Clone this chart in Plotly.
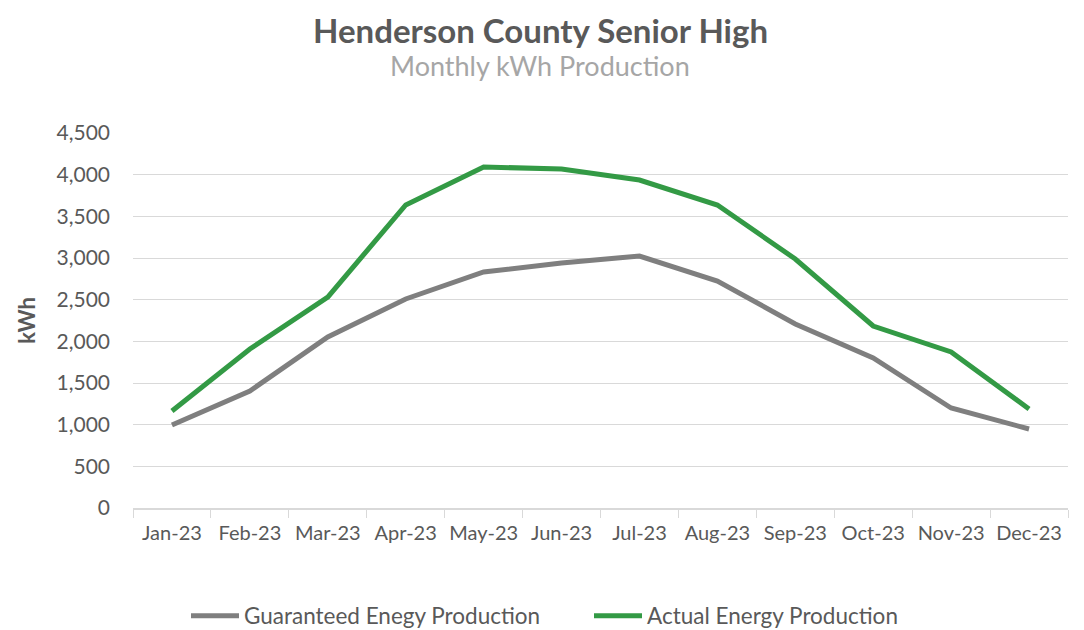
import plotly.graph_objects as go

months = ["Jan-23", "Feb-23", "Mar-23", "Apr-23", "May-23", "Jun-23",
          "Jul-23", "Aug-23", "Sep-23", "Oct-23", "Nov-23", "Dec-23"]
guaranteed = [996, 1404, 2052, 2508, 2832, 2940, 3024, 2724, 2208, 1800, 1200, 948]
actual = [1164, 1908, 2532, 3636, 4092, 4068, 3936, 3636, 2988, 2184, 1872, 1188]
y_ticks = [0, 500, 1000, 1500, 2000, 2500, 3000, 3500, 4000, 4500]

FONT = "Lato"
OFF = 8  # page body margin
W, H = 1084 - OFF, 630 - OFF
# target plot area in page pixels: x 133..1068, y 133..508
ML, MT = 133 - OFF, 133 - OFF
plot_w, plot_h = 1068 - 133, 508 - 133
MR = W - ML - plot_w
MB = H - MT - plot_h

fig = go.Figure()
fig.add_trace(go.Scatter(x=months, y=guaranteed, mode="lines",
                         name="Guaranteed Enegy Production",
                         line=dict(color="#7f7f7f", width=5)))
fig.add_trace(go.Scatter(x=months, y=actual, mode="lines",
                         name="Actual Energy Production",
                         line=dict(color="#339a45", width=5)))

cx = (540 - 133) / plot_w
fig.update_layout(
    width=W, height=H,
    margin=dict(l=ML, r=MR, t=MT, b=MB, autoexpand=False),
    paper_bgcolor="white", plot_bgcolor="white",
    font=dict(family=FONT, color="#595959", size=20),
    showlegend=True,
    legend=dict(orientation="h", x=(190 - 133 - 4) / plot_w, xanchor="left",
                y=-(616 - 508) / plot_h, yanchor="middle",
                font=dict(size=22.5, color="#595959"), itemwidth=48,
                entrywidthmode="pixels", entrywidth=340,
                tracegroupgap=0, itemsizing="constant"),
    annotations=[
        dict(text="<b>Henderson County Senior High</b>", x=cx, xref="paper",
             y=1 + (133 - 30) / plot_h, yref="paper", yanchor="middle",
             showarrow=False, font=dict(size=33, color="#595959")),
        dict(text="Monthly kWh Production", x=cx, xref="paper",
             y=1 + (133 - 65) / plot_h, yref="paper", yanchor="middle",
             showarrow=False, font=dict(size=27, color="#a6a6a6")),
    ],
)

fig.update_xaxes(type="category", range=[-0.5, 11.5], showgrid=False,
                 showline=True, linecolor="#d9d9d9", linewidth=1.5,
                 ticks="outside", tickson="boundaries", ticklen=8, tickcolor="#d9d9d9",
                 tickangle=0,
                 tickfont=dict(size=20, color="#595959"), ticklabelstandoff=6)
fig.update_yaxes(range=[0, 4500], tickvals=y_ticks, tickformat=",",
                 showgrid=True, gridcolor="#d9d9d9", gridwidth=1.3, zeroline=False,
                 tickfont=dict(size=21, color="#595959"), ticklabelstandoff=22,
                 title=dict(text="<b>kWh</b>", font=dict(size=22, color="#595959"), standoff=14))

fig.write_html("out.html")
